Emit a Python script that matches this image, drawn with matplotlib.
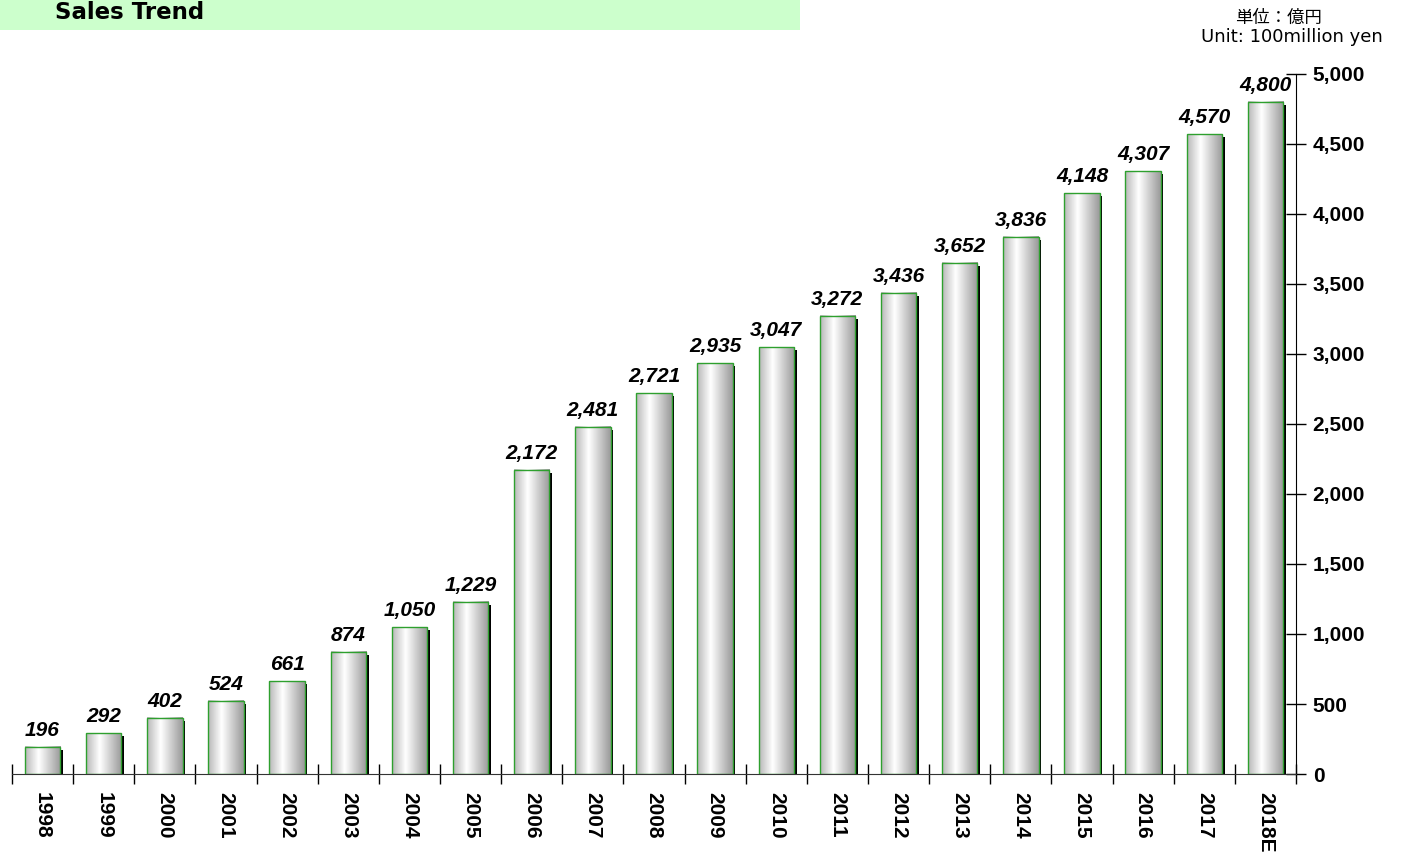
import matplotlib.pyplot as plt
import numpy as np
from matplotlib.patches import Rectangle

years = ['1998', '1999', '2000', '2001', '2002', '2003', '2004', '2005', '2006', '2007',
         '2008', '2009', '2010', '2011', '2012', '2013', '2014', '2015', '2016', '2017', '2018E']
sales = [196, 292, 402, 524, 661, 874, 1050, 1229, 2172, 2481,
         2721, 2935, 3047, 3272, 3436, 3652, 3836, 4148, 4307, 4570, 4800]
yticks = [0, 500, 1000, 1500, 2000, 2500, 3000, 3500, 4000, 4500, 5000]

fig = plt.figure(figsize=(14.01, 8.52), dpi=100)
fig.patch.set_facecolor('white')

# green title band
fig.patches.append(Rectangle((0, 1 - 30 / 852), 800 / 1401, 30 / 852,
                             transform=fig.transFigure, facecolor='#ccffcc',
                             edgecolor='none', zorder=0))
fig.text(55 / 1401, 1 - 19 / 852, 'Sales Trend', fontsize=16.5, fontweight='bold',
         family='DejaVu Sans', va='baseline', ha='left')

fig.text(1278 / 1401, 1 - 17.5 / 852, '単位：億円', fontsize=12.5,
         family=['Noto Sans CJK JP', 'DejaVu Sans'], ha='center', va='center')
fig.text(1292 / 1401, 1 - 42 / 852, 'Unit: 100million yen', fontsize=13,
         family='DejaVu Sans', ha='center', va='baseline')

ax = fig.add_axes([12 / 1401, 1 - 774 / 852, (1296 - 12) / 1401, 700 / 852])

x = np.arange(len(years))
w = 0.58
grad = np.interp(np.linspace(0, 1, 100), [0, 0.38, 1], [0.72, 1.0, 0.6])
grad = np.tile(grad, (2, 1))

# shadow offset in data units (approx 2px right, 3px down)
dx = 2.5 / 61.14
dy = 3 / 0.14

for xi, v in zip(x, sales):
    ax.add_patch(Rectangle((xi - w / 2 + dx, 0), w, v - dy, facecolor='black',
                           edgecolor='none', zorder=1))
    ax.imshow(grad, cmap='gray', vmin=0, vmax=1, aspect='auto',
              extent=(xi - w / 2, xi + w / 2, 0, v), zorder=2, interpolation='bilinear')
    ax.add_patch(Rectangle((xi - w / 2, 0), w, v, facecolor='none',
                           edgecolor='#2ea02e', linewidth=1.0, zorder=3))
    ax.text(xi, v + 50, f'{v:,}', ha='center', va='bottom', fontsize=15,
            fontweight='bold', fontstyle='italic', family='Liberation Sans', zorder=4)

ax.set_xlim(-0.5, len(years) - 0.5)
ax.set_ylim(0, 5000)

ax.spines['left'].set_visible(False)
ax.spines['top'].set_visible(False)
ax.spines['bottom'].set_color('#333333')
ax.spines['right'].set_color('black')

ax.yaxis.tick_right()
ax.set_yticks(yticks)
ax.set_yticklabels([f'{t:,}' for t in yticks], fontsize=15, fontweight='bold',
                   family='Liberation Sans')
ax.tick_params(axis='y', direction='inout', length=14, width=1, pad=5)

ax.set_xticks(x)
ax.set_xticklabels(years, rotation=-90, fontsize=15, fontweight='bold',
                   family='Liberation Sans', va='top')
ax.tick_params(axis='x', which='major', length=0, pad=13)
ax.set_xticks(np.arange(-0.5, len(years)), minor=True)
ax.tick_params(axis='x', which='minor', direction='inout', length=14, width=1)

fig.savefig('out.png', dpi=100)
